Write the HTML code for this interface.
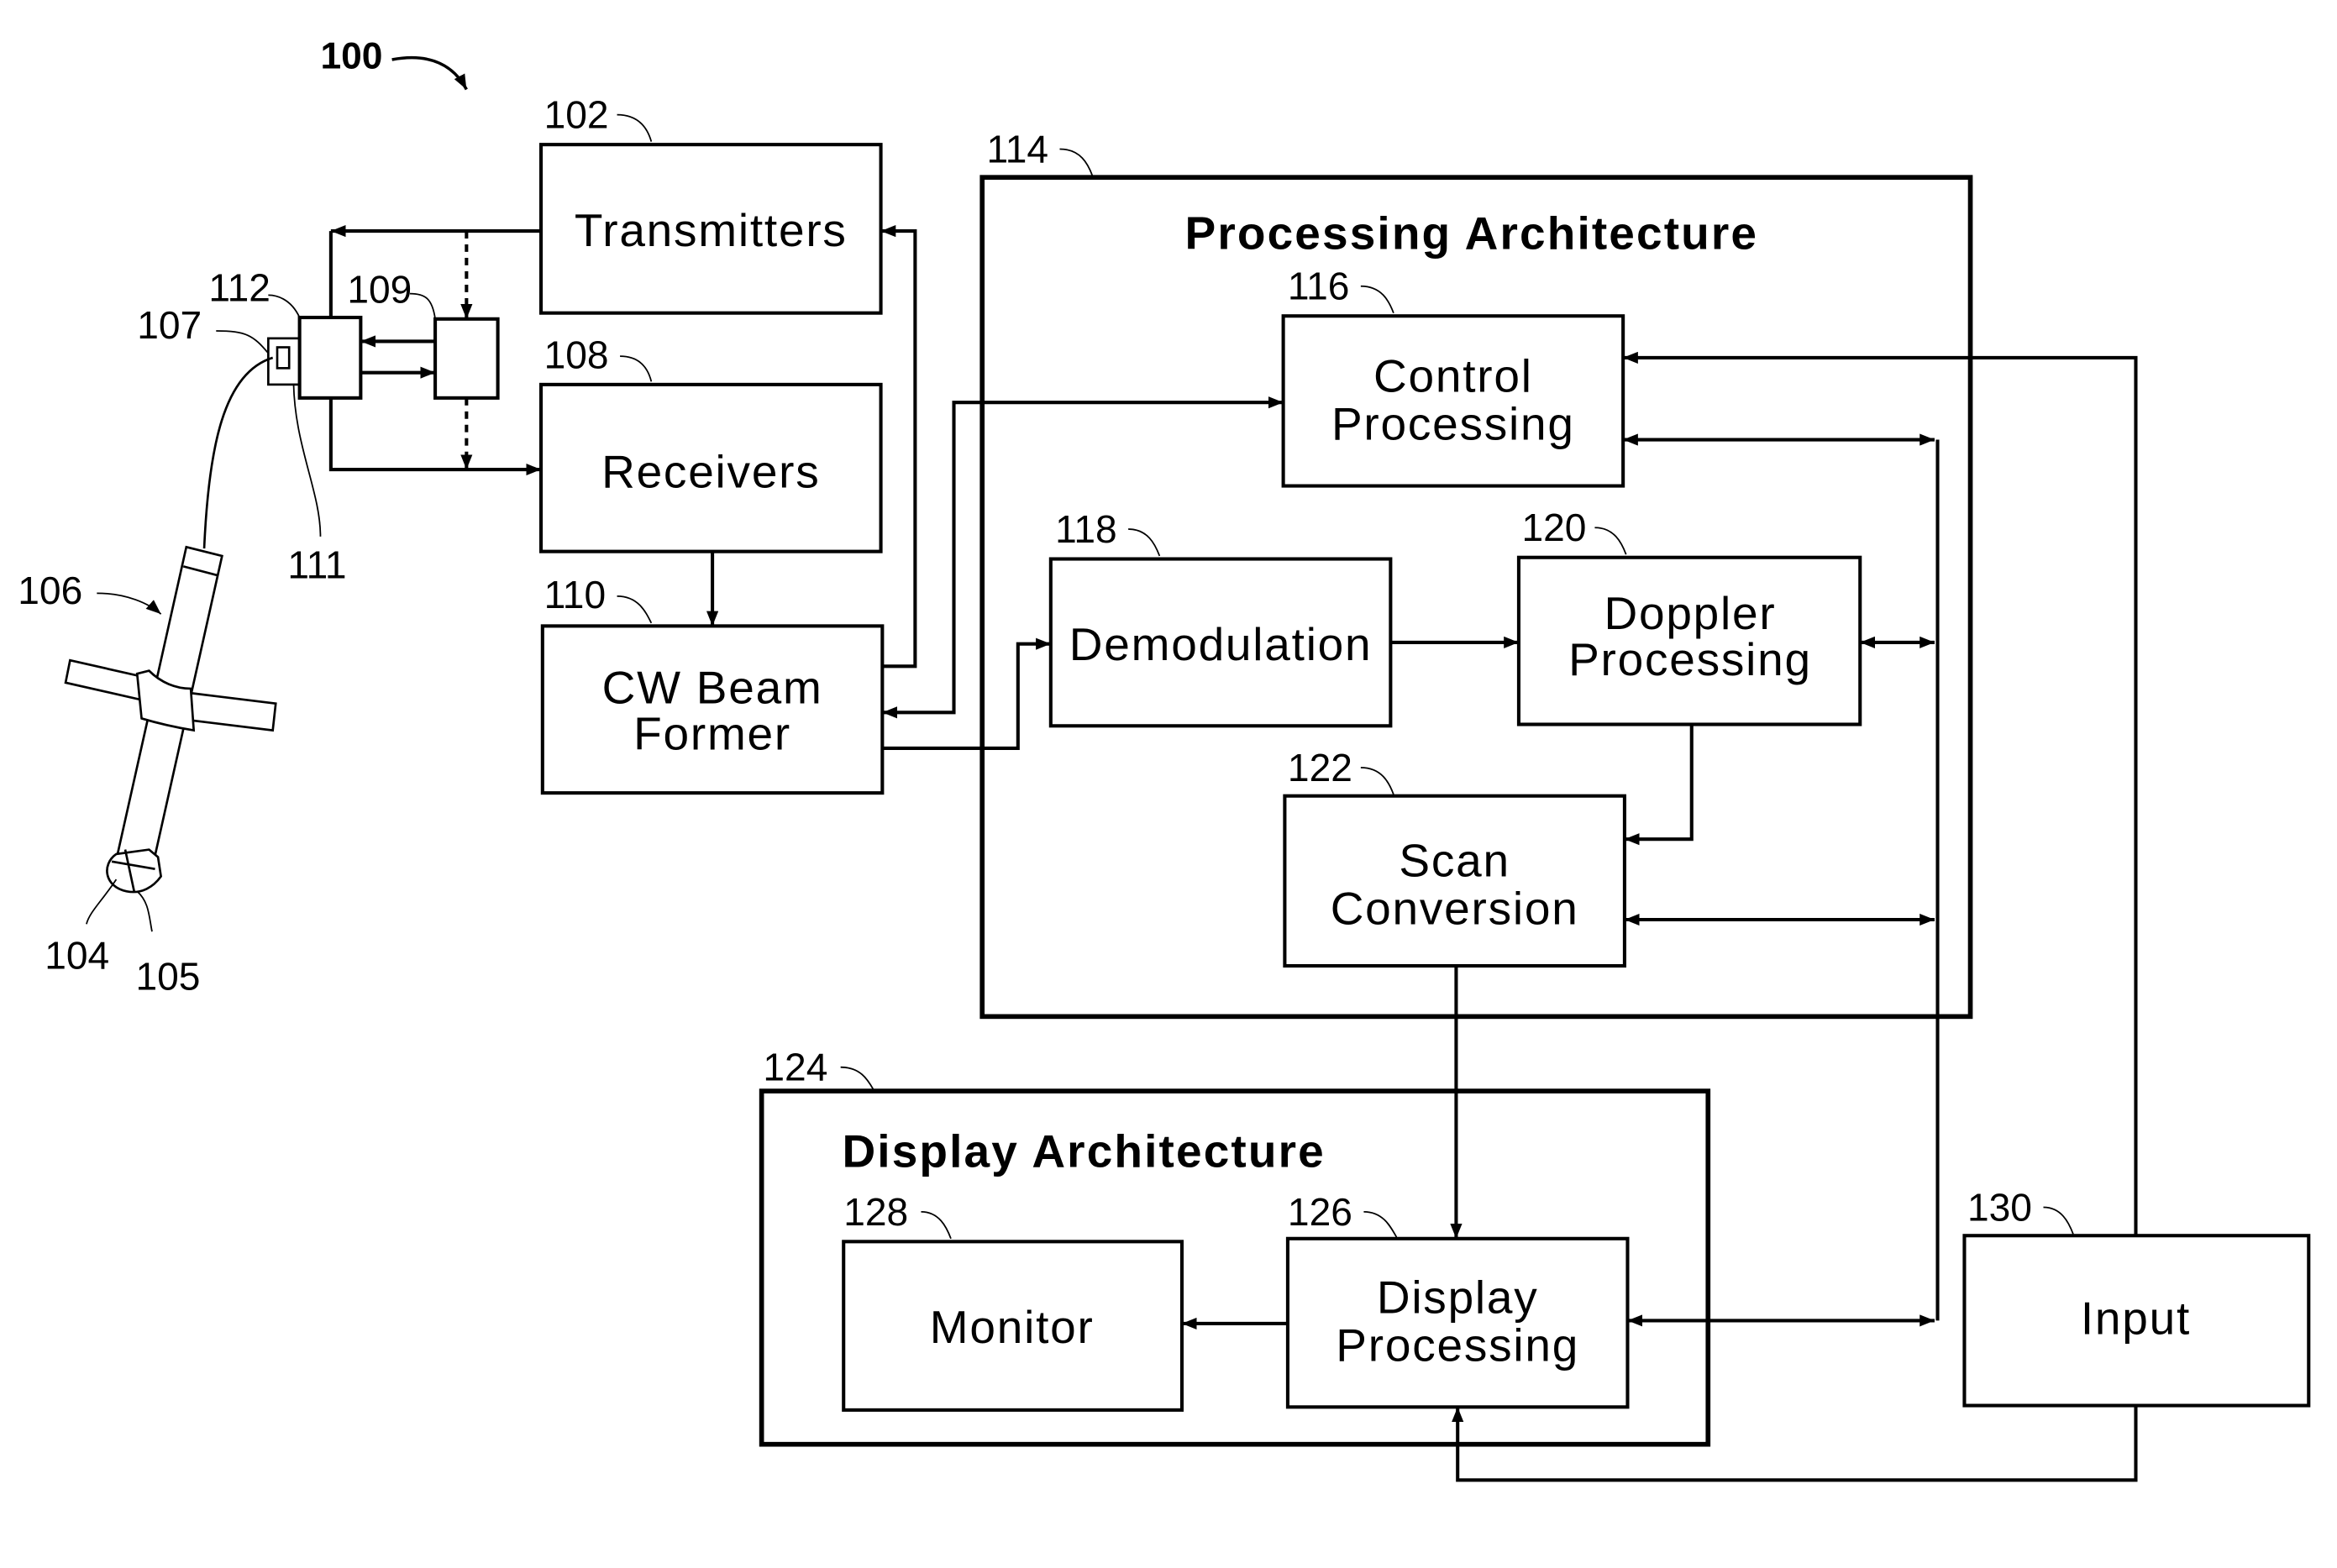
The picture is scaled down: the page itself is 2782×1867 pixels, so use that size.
<!DOCTYPE html>
<html><head><style>html,body{margin:0;padding:0;background:#fff}svg{display:block}</style></head>
<body>
<svg width="2782" height="1867" viewBox="0 0 1568 1052" preserveAspectRatio="none" xmlns="http://www.w3.org/2000/svg" font-family="Liberation Sans, Arial, sans-serif">
<defs>
<marker id="a" markerWidth="10" markerHeight="8" refX="10" refY="4" orient="auto" markerUnits="userSpaceOnUse"><path d="M0,0 L10,4 L0,8 z" fill="#000"/></marker>
<marker id="s" markerWidth="10" markerHeight="8" refX="0" refY="4" orient="auto" markerUnits="userSpaceOnUse"><path d="M10,0 L0,4 L10,8 z" fill="#000"/></marker>
</defs>
<g fill="none" stroke="#000" stroke-width="2.3">
<rect x="363" y="97" width="228" height="113"/>
<rect x="363" y="258" width="228" height="112"/>
<rect x="364" y="420" width="228" height="112"/>
<rect x="659" y="119" width="663" height="563" stroke-width="3.2"/>
<rect x="861" y="212" width="228" height="114"/>
<rect x="705" y="375" width="228" height="112"/>
<rect x="1019" y="374" width="229" height="112"/>
<rect x="862" y="534" width="228" height="114"/>
<rect x="511" y="732" width="635" height="237" stroke-width="3.2"/>
<rect x="566" y="833" width="227" height="113"/>
<rect x="864" y="831" width="228" height="113"/>
<rect x="1318" y="829" width="231" height="114"/>
<rect x="201" y="213" width="41" height="54"/>
<rect x="292" y="214" width="42" height="53"/>
<rect x="180" y="227" width="21" height="31" stroke-width="1.5"/>
<rect x="186" y="233" width="8" height="14" stroke-width="1.5"/>

<polyline points="363,155 222,155" marker-end="url(#a)"/>
<line x1="222" y1="155" x2="222" y2="213"/>
<polyline points="222,267 222,315 363,315" marker-end="url(#a)"/>
<line x1="313" y1="155" x2="313" y2="214" stroke-dasharray="5,4" marker-end="url(#a)"/>
<line x1="313" y1="267" x2="313" y2="315" stroke-dasharray="5,4" marker-end="url(#a)"/>
<line x1="292" y1="229" x2="242" y2="229" marker-end="url(#a)"/>
<line x1="242" y1="250" x2="292" y2="250" marker-end="url(#a)"/>
<line x1="478" y1="370" x2="478" y2="420" marker-end="url(#a)"/>
<polyline points="592,447 614,447 614,155 591,155" marker-end="url(#a)"/>
<polyline points="592,478 640,478 640,270 861,270" marker-start="url(#s)" marker-end="url(#a)"/>
<polyline points="592,502 683,502 683,432 705,432" marker-end="url(#a)"/>
<line x1="933" y1="431" x2="1019" y2="431" marker-end="url(#a)"/>
<line x1="1248" y1="431" x2="1298" y2="431" marker-start="url(#s)" marker-end="url(#a)"/>
<line x1="1089" y1="295" x2="1298" y2="295" marker-start="url(#s)" marker-end="url(#a)"/>
<polyline points="1135,486 1135,563 1090,563" marker-end="url(#a)"/>
<line x1="1090" y1="617" x2="1298" y2="617" marker-start="url(#s)" marker-end="url(#a)"/>
<line x1="1300" y1="295" x2="1300" y2="886"/>
<line x1="1092" y1="886" x2="1298" y2="886" marker-start="url(#s)" marker-end="url(#a)"/>
<line x1="977" y1="648" x2="977" y2="831" marker-end="url(#a)"/>
<line x1="864" y1="888" x2="793" y2="888" marker-end="url(#a)"/>
<polyline points="1433,829 1433,240 1089,240" marker-end="url(#a)"/>
<polyline points="1433,943 1433,993 978,993 978,944" marker-end="url(#a)"/>

<!-- probe -->
<path d="M183,240 C150,250 140,300 137,368" stroke-width="1.5"/>
<g stroke-width="1.5" fill="#fff">
<polygon points="125,367 149,373 102,583 78,577"/>
<line x1="123" y1="380" x2="146" y2="386"/>
<polygon points="47,443 100,455 97,470 44,458"/>
<polygon points="128,465 185,472 183,490 126,483"/>
<path d="M92,452 L100,450 C108,458 118,462 128,462 L130,490 C118,488 105,485 95,482 Z"/>
<path d="M78,573 C68,580 70,595 85,598 C95,600 103,595 108,588 L106,575 L100,570 Z"/>
<line x1="84" y1="570" x2="90" y2="598"/>
<path d="M75,578 L104,583"/>
</g>
<path d="M65,398 C85,398 100,405 108,412" stroke-width="1" marker-end="url(#a)"/>
<path d="M78,590 C68,605 60,612 58,620 M92,598 C100,605 100,615 102,625" stroke-width="1"/>
<path d="M180,237 C170,225 165,222 145,222 M197,258 C198,300 215,330 215,360 M201,213 C195,200 185,198 180,198 M292,214 C290,200 285,197 275,197" stroke-width="1"/>
<path d="M263,40 C290,35 305,45 313,60" stroke-width="2" marker-end="url(#a)"/>
<path d="M414,77 C430,77 435,88 437,95 M416,239 C430,239 435,248 437,256 M414,400 C428,400 433,410 437,418 M711,100 C725,100 730,110 733,118 M913,192 C927,192 932,202 935,210 M757,355 C770,355 775,365 778,373 M1070,354 C1083,354 1088,364 1091,372 M913,515 C927,515 932,525 935,533 M564,716 C577,716 582,724 586,731 M618,813 C630,813 635,823 638,831 M915,813 C928,813 933,823 937,830 M1371,810 C1383,810 1388,820 1391,828" stroke-width="1"/>
</g>
<g font-size="31" letter-spacing="1" text-anchor="middle" fill="#000">
<text x="477" y="165">Transmitters</text>
<text x="477" y="327">Receivers</text>
<text x="478" y="472">CW Beam</text><text x="478" y="503">Former</text>
<text x="975" y="263">Control</text><text x="975" y="295">Processing</text>
<text x="819" y="443">Demodulation</text>
<text x="1134" y="422">Doppler</text><text x="1134" y="453">Processing</text>
<text x="976" y="588">Scan</text><text x="976" y="620">Conversion</text>
<text x="679" y="901">Monitor</text>
<text x="978" y="881">Display</text><text x="978" y="913">Processing</text>
<text x="1433" y="895">Input</text>
</g>
<g font-size="31" letter-spacing="1.2" font-weight="bold" fill="#000">
<text x="795" y="167">Processing Architecture</text>
<text x="565" y="783">Display Architecture</text>
<text x="215" y="46" font-size="25" letter-spacing="0">100</text>
</g>
<g font-size="26" fill="#000">
<text x="365" y="86">102</text><text x="365" y="247">108</text><text x="365" y="408">110</text>
<text x="662" y="109">114</text><text x="864" y="201">116</text><text x="708" y="364">118</text>
<text x="1021" y="363">120</text><text x="864" y="524">122</text><text x="512" y="725">124</text>
<text x="566" y="822">128</text><text x="864" y="822">126</text><text x="1320" y="819">130</text>
<text x="140" y="202">112</text><text x="233" y="203">109</text><text x="92" y="227">107</text>
<text x="193" y="388">111</text><text x="12" y="405">106</text><text x="30" y="650">104</text><text x="91" y="664">105</text>
</g>
</svg>
</body></html>
